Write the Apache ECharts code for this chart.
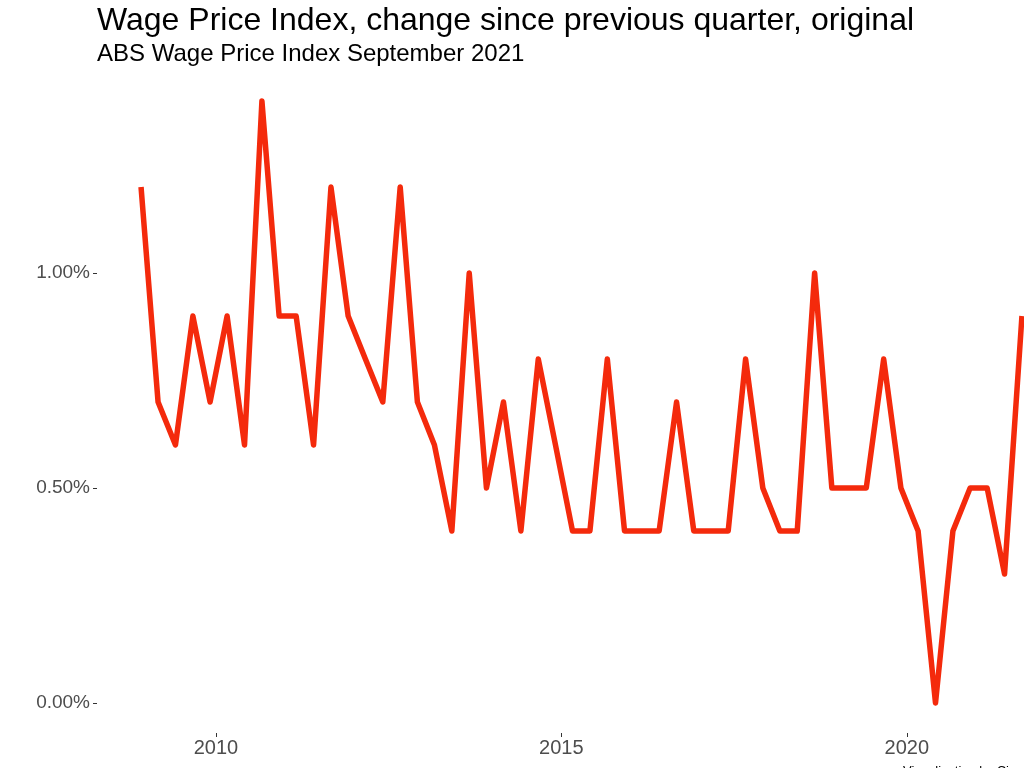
<!DOCTYPE html>
<html>
<head>
<meta charset="utf-8">
<script src="https://cdn.jsdelivr.net/npm/echarts@6/dist/echarts.min.js"></script>
<style>
html,body{margin:0;padding:0;background:#fff;}
#chart{width:1024px;height:768px;}
</style>
</head>
<body>
<div id="chart"></div>
<script>
// Quarter dates (first day of the quarter's last month)
const quarterDates = [
  '2008-12-01','2009-03-01','2009-06-01','2009-09-01','2009-12-01',
  '2010-03-01','2010-06-01','2010-09-01','2010-12-01',
  '2011-03-01','2011-06-01','2011-09-01','2011-12-01',
  '2012-03-01','2012-06-01','2012-09-01','2012-12-01',
  '2013-03-01','2013-06-01','2013-09-01','2013-12-01',
  '2014-03-01','2014-06-01','2014-09-01','2014-12-01',
  '2015-03-01','2015-06-01','2015-09-01','2015-12-01',
  '2016-03-01','2016-06-01','2016-09-01','2016-12-01',
  '2017-03-01','2017-06-01','2017-09-01','2017-12-01',
  '2018-03-01','2018-06-01','2018-09-01','2018-12-01',
  '2019-03-01','2019-06-01','2019-09-01','2019-12-01',
  '2020-03-01','2020-06-01','2020-09-01','2020-12-01',
  '2021-03-01','2021-06-01','2021-09-01'
];
// Quarterly change, percent
const wpiChange = [
  1.2, 0.7, 0.6, 0.9, 0.7,
  0.9, 0.6, 1.4, 0.9,
  0.9, 0.6, 1.2, 0.9,
  0.8, 0.7, 1.2, 0.7,
  0.6, 0.4, 1.0, 0.5,
  0.7, 0.4, 0.8, 0.6,
  0.4, 0.4, 0.8, 0.4,
  0.4, 0.4, 0.7, 0.4,
  0.4, 0.4, 0.8, 0.5,
  0.4, 0.4, 1.0, 0.5,
  0.5, 0.5, 0.8, 0.5,
  0.4, 0.0, 0.4, 0.5,
  0.5, 0.3, 0.9
];
const yTicks = [0, 0.5, 1.0];
const xTickYears = [2010, 2015, 2020];
const titleText = 'Wage Price Index, change since previous quarter, original';
const subtitleText = 'ABS Wage Price Index September 2021';
const captionText = 'Visualisation by Ciaran';

function ts(s){ const p = s.split('-').map(Number); return Date.UTC(p[0], p[1]-1, p[2]); }
const xs = quarterDates.map(ts);
const seriesData = xs.map((t, i) => [t, wpiChange[i]]);
const xMinD = Math.min(...xs), xMaxD = Math.max(...xs);
const xSpan = xMaxD - xMinD;
const yMinD = Math.min(...wpiChange), yMaxD = Math.max(...wpiChange);
const ySpan = yMaxD - yMinD;
const xTickVals = xTickYears.map(y => Date.UTC(y, 0, 1));

// The reference plot panel extends past the right edge of the picture (cropped);
// full panel would span 97..1066 px, visible part 97..1024 px.
const gridLeft = 97, panelRightFull = 1066, canvasW = 1024;
const axMin = xMinD - 0.05 * xSpan;
const axMaxFull = xMaxD + 0.05 * xSpan;
const axMax = axMin + (axMaxFull - axMin) * (canvasW - gridLeft) / (panelRightFull - gridLeft);

const font = 'Liberation Sans, Arial, Helvetica, sans-serif';
const chart = echarts.init(document.getElementById('chart'), null, {renderer: 'canvas'});
chart.setOption({
  backgroundColor: '#ffffff',
  animation: false,
  title: [
    {text: titleText, left: 92, top: 0,
     textStyle: {fontFamily: font, fontSize: 32, fontWeight: 'normal', color: '#000'}},
    {text: subtitleText, left: 92, top: 37,
     textStyle: {fontFamily: font, fontSize: 24, fontWeight: 'normal', color: '#000'}},
    {text: captionText, left: 898, top: 760,
     textStyle: {fontFamily: font, fontSize: 13, fontWeight: 'normal', color: '#000'}}
  ],
  grid: {left: gridLeft, right: 0, top: 71, bottom: 35, containLabel: false},
  xAxis: {
    type: 'value',
    min: axMin,
    max: axMax,
    axisLine: {show: false, onZero: false},
    splitLine: {show: false},
    axisTick: {show: true, customValues: xTickVals, length: 4, inside: false,
      lineStyle: {color: '#333', width: 1}},
    axisLabel: {show: true, customValues: xTickVals, margin: 5,
      formatter: v => String(new Date(v).getUTCFullYear()),
      fontFamily: font, fontSize: 20, color: '#4d4d4d'}
  },
  yAxis: {
    type: 'value',
    min: yMinD - 0.05 * ySpan,
    max: yMaxD + 0.05 * ySpan,
    axisLine: {show: false, onZero: false},
    splitLine: {show: false},
    axisTick: {show: true, customValues: yTicks, length: 4,
      lineStyle: {color: '#333', width: 1}},
    axisLabel: {show: true, customValues: yTicks, margin: 7,
      formatter: v => v.toFixed(2) + '%',
      fontFamily: font, fontSize: 19, color: '#4d4d4d'}
  },
  series: [{
    type: 'line',
    data: seriesData,
    showSymbol: false,
    symbol: 'none',
    clip: false,
    lineStyle: {color: '#f42a0c', width: 5.5, join: 'round', cap: 'butt'}
  }]
});
</script>
</body>
</html>
